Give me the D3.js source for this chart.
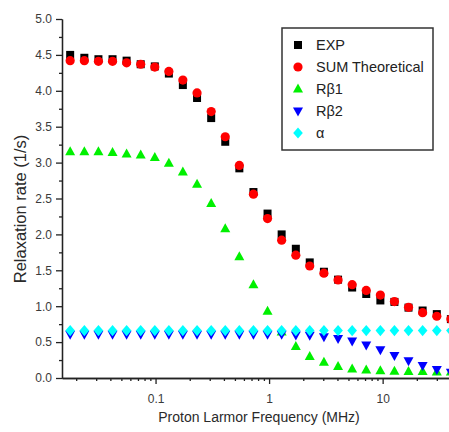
<!DOCTYPE html>
<html>
<head>
<meta charset="utf-8">
<script src="https://cdn.jsdelivr.net/npm/d3@7"></script>
<style>
  body { margin: 0; background: #fff; }
  svg { display: block; font-family: "Liberation Sans", Arial, sans-serif; }
  .axis path, .axis line { stroke: #222; stroke-width: 1.3; }
  .axis text { fill: #3a3a3a; font-size: 12px; font-family: "Liberation Sans", Arial, sans-serif; }
</style>
</head>
<body>
<div id="chart"></div>
<script>

// data
var freq = [0.0177, 0.0236, 0.0314, 0.0418, 0.0556, 0.074, 0.0985, 0.131, 0.174, 0.232,
            0.309, 0.411, 0.547, 0.728, 0.969, 1.29, 1.72, 2.28, 3.04, 4.05,
            5.39, 7.17, 9.55, 12.7, 16.9, 22.5, 30.0, 39.9];
var expData = [4.50, 4.46, 4.44, 4.44, 4.42, 4.37, 4.34, 4.24, 4.08, 3.90,
               3.62, 3.29, 2.92, 2.59, 2.29, 2.00, 1.80, 1.61, 1.48, 1.37,
               1.26, 1.17, 1.08, 1.06, 0.98, 0.94, 0.89, 0.82];
var sumData = [4.42, 4.42, 4.41, 4.41, 4.39, 4.37, 4.33, 4.27, 4.15, 3.97,
               3.71, 3.36, 2.96, 2.56, 2.22, 1.92, 1.71, 1.56, 1.46, 1.365,
               1.30, 1.22, 1.155, 1.065, 0.985, 0.91, 0.86, 0.82];
var rb1Data = [3.15, 3.15, 3.15, 3.14, 3.12, 3.105, 3.07, 2.99, 2.87, 2.70,
               2.43, 2.08, 1.69, 1.30, 0.93, 0.64, 0.44, 0.30, 0.22, 0.16,
               0.125, 0.11, 0.10, 0.095, 0.09, 0.09, 0.085, 0.085];
var rb2Data = [0.61, 0.61, 0.61, 0.61, 0.61, 0.61, 0.61, 0.61, 0.61, 0.61,
               0.61, 0.61, 0.61, 0.61, 0.61, 0.61, 0.60, 0.595, 0.575, 0.55,
               0.515, 0.46, 0.395, 0.315, 0.24, 0.175, 0.12, 0.08];
var alphaData = [0.66, 0.66, 0.66, 0.66, 0.66, 0.66, 0.66, 0.66, 0.66, 0.66,
                 0.66, 0.66, 0.66, 0.66, 0.66, 0.66, 0.66, 0.66, 0.66, 0.66,
                 0.66, 0.66, 0.66, 0.66, 0.66, 0.66, 0.66, 0.66];

var seriesNames = ["EXP", "SUM Theoretical", "R\u03b21", "R\u03b22", "\u03b1"];
var xMajorTicks = [0.1, 1, 10];
var xMinorTicks = [0.02, 0.03, 0.04, 0.05, 0.06, 0.07, 0.08, 0.09,
                   0.2, 0.3, 0.4, 0.5, 0.6, 0.7, 0.8, 0.9,
                   2, 3, 4, 5, 6, 7, 8, 9, 20, 30, 40];
var yMajorTicks = [0, 0.5, 1, 1.5, 2, 2.5, 3, 3.5, 4, 4.5, 5];
var yMinorTicks = [0.25, 0.75, 1.25, 1.75, 2.25, 2.75, 3.25, 3.75, 4.25, 4.75];

var width = 449, height = 432;

var svg = d3.select("#chart").append("svg")
    .attr("width", width)
    .attr("height", height);

// scales (plot runs off the right edge of the picture)
var x = d3.scaleLog().domain([0.015, 50]).range([62, 462]);
var y = d3.scaleLinear().domain([0, 5]).range([378, 19]);

// marker shapes
function square(s) { return "M" + (-s) + "," + (-s) + "h" + 2 * s + "v" + 2 * s + "h" + (-2 * s) + "Z"; }
function circle(r) { return "M" + (-r) + ",0a" + r + "," + r + " 0 1,0 " + 2 * r + ",0a" + r + "," + r + " 0 1,0 " + (-2 * r) + ",0Z"; }
function triUp(s) { return "M0," + (-s * 1.1) + "L" + s + "," + (s * 0.7) + "L" + (-s) + "," + (s * 0.7) + "Z"; }
function triDown(s) { return "M0," + (s * 1.1) + "L" + s + "," + (-s * 0.7) + "L" + (-s) + "," + (-s * 0.7) + "Z"; }
function diamond(s) { return "M0," + (-s * 1.15) + "L" + s + ",0L0," + (s * 1.15) + "L" + (-s) + ",0Z"; }

var series = [
  { name: seriesNames[0], values: expData,   color: "#000000", shape: square(4) },
  { name: seriesNames[1], values: sumData,   color: "#ff0000", shape: circle(4.6) },
  { name: seriesNames[2], values: rb1Data,   color: "#00f000", shape: triUp(5) },
  { name: seriesNames[3], values: rb2Data,   color: "#0000ff", shape: triDown(5) },
  { name: seriesNames[4], values: alphaData, color: "#00ffff", shape: diamond(4.8) }
];

// Add the points
series.forEach(function(s) {
  svg.append("g").selectAll("path")
      .data(s.values)
    .enter().append("path")
      .attr("d", s.shape)
      .attr("transform", function(d, i) { return "translate(" + x(freq[i]) + "," + y(d) + ")"; })
      .style("fill", s.color);
});

// Add the X Axis
svg.append("g")
    .attr("class", "axis")
    .attr("transform", "translate(0," + y(0) + ")")
    .call(d3.axisBottom(x).tickValues(xMinorTicks).tickSize(3).tickSizeOuter(0).tickFormat(""));
svg.append("g")
    .attr("class", "axis")
    .attr("transform", "translate(0," + y(0) + ")")
    .call(d3.axisBottom(x).tickValues(xMajorTicks).tickSize(6).tickSizeOuter(0).tickPadding(10)
      .tickFormat(function(d) { return d3.format("")(d); }));

// Add the Y Axis
svg.append("g")
    .attr("class", "axis")
    .attr("transform", "translate(" + x(0.015) + ",0)")
    .call(d3.axisLeft(y).tickValues(yMinorTicks).tickSize(3).tickSizeOuter(0).tickFormat(""));
svg.append("g")
    .attr("class", "axis")
    .attr("transform", "translate(" + x(0.015) + ",0)")
    .call(d3.axisLeft(y).tickValues(yMajorTicks).tickSize(6).tickSizeOuter(0).tickPadding(4)
      .tickFormat(d3.format(".1f")));

// axis titles
svg.append("text")
    .attr("x", 259)
    .attr("y", 422)
    .style("text-anchor", "middle")
    .style("font-size", "14px")
    .style("fill", "#2a2a2a")
    .text("Proton Larmor Frequency (MHz)");

svg.append("text")
    .attr("transform", "translate(26,209) rotate(-90)")
    .style("text-anchor", "middle")
    .style("font-size", "16.5px")
    .style("fill", "#2a2a2a")
    .text("Relaxation rate (1/s)");

// legend
svg.append("rect")
    .attr("x", 282)
    .attr("y", 28)
    .attr("width", 151)
    .attr("height", 122)
    .style("fill", "#fff")
    .style("stroke", "#333")
    .style("stroke-width", 1.5);

var legend = svg.selectAll(".legend")
    .data(series)
  .enter().append("g")
    .attr("class", "legend")
    .attr("transform", function(d, i) { return "translate(0," + (45 + i * 22) + ")"; });

legend.append("path")
    .attr("d", function(d) { return d.shape; })
    .attr("transform", "translate(298,0)")
    .style("fill", function(d) { return d.color; });

legend.append("text")
    .attr("x", 316)
    .attr("dy", ".35em")
    .style("font-size", "14.5px")
    .style("fill", "#222")
    .text(function(d) { return d.name; });

</script>
</body>
</html>
